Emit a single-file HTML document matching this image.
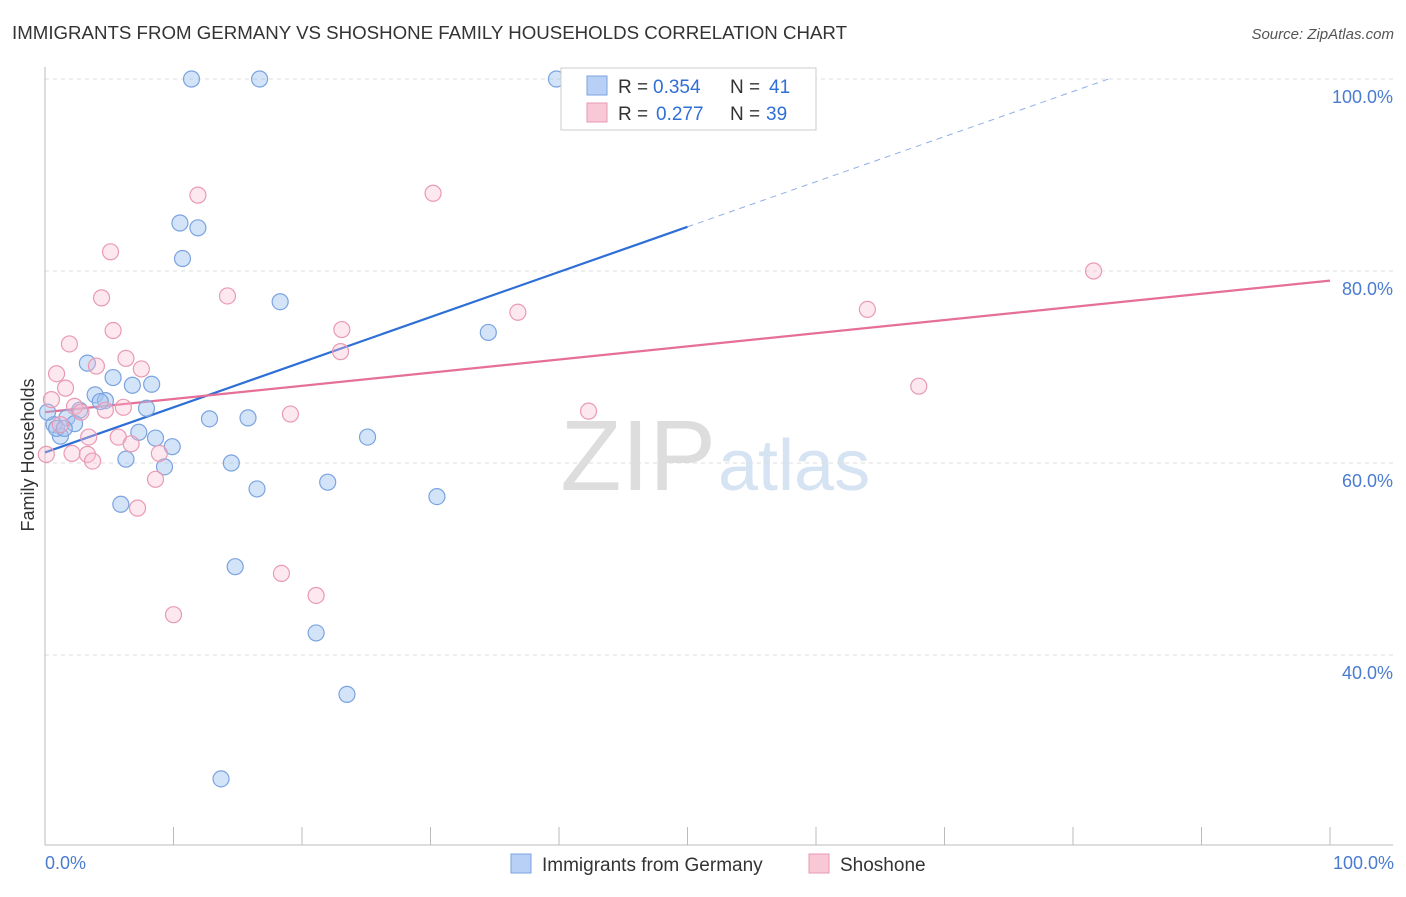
<!DOCTYPE html>
<html><head><meta charset="utf-8"><style>
body{margin:0;background:#fff;font-family:"Liberation Sans",sans-serif;}
svg text{font-family:"Liberation Sans",sans-serif;}
</style></head><body>
<svg id="chart" width="1406" height="892">
<text x="12" y="39" font-size="18" fill="#333" textLength="835" lengthAdjust="spacingAndGlyphs">IMMIGRANTS FROM GERMANY VS SHOSHONE FAMILY HOUSEHOLDS CORRELATION CHART</text>
<text x="1394" y="39" font-size="15" fill="#555" font-style="italic" text-anchor="end">Source: ZipAtlas.com</text>
<text x="716" y="490" font-size="100" fill="#ddd" font-family="Liberation Serif" text-anchor="end">ZIP</text>
<text x="718" y="490" font-size="72" fill="#d6e3f3">atlas</text>
<g id="grid"></g><g id="axes"></g><g id="lines"></g><g id="pts"></g>
<text transform="translate(34,455) rotate(-90)" font-size="18" fill="#333" text-anchor="middle">Family Households</text>
<text x="45" y="869" font-size="18" fill="#4a7bd0">0.0%</text>
<text x="1394" y="869" font-size="18" fill="#4a7bd0" text-anchor="end">100.0%</text>
<g>
<rect x="561" y="68" width="255" height="62" fill="#fff" stroke="#ccc"/>
<rect x="587" y="76" width="20" height="19" fill="#b8d0f5" stroke="#7aa3e0"/>
<rect x="587" y="103" width="20" height="19" fill="#f8c8d6" stroke="#e99ab2"/>
<text x="618" y="93" font-size="19" fill="#333">R = <tspan x="653" fill="#2f6fd6">0.354</tspan><tspan x="730">N = </tspan><tspan x="769" fill="#2f6fd6">41</tspan></text>
<text x="618" y="120" font-size="19" fill="#333">R = <tspan x="656" fill="#2f6fd6">0.277</tspan><tspan x="730">N = </tspan><tspan x="766" fill="#2f6fd6">39</tspan></text>
</g>
<g>
<rect x="511" y="854" width="20" height="19" fill="#b8d0f5" stroke="#7aa3e0"/>
<text x="542" y="871" font-size="19" fill="#333">Immigrants from Germany</text>
<rect x="809" y="854" width="20" height="19" fill="#f8c8d6" stroke="#e99ab2"/>
<text x="840" y="871" font-size="19" fill="#333">Shoshone</text>
</g>
</svg>
<script>
const yTicks=[40,60,80,100];
const yTickLabels=["40.0%","60.0%","80.0%","100.0%"];
const xTicks=[0,10,20,30,40,50,60,70,80,90,100];
const germanyX=[11.4,16.7,39.8,10.5,11.9,10.7,18.3,34.5,3.3,5.3,6.8,8.3,3.9,4.7,4.3,7.9,2.7,1.7,0.7,2.3,1.2,7.3,8.6,9.9,12.8,15.8,25.1,6.3,9.3,14.5,16.5,22.0,30.5,5.9,14.8,21.1,23.5,13.7,0.2,0.9,1.5];
const germanyY=[100,100,100,85.0,84.5,81.3,76.8,73.6,70.4,68.9,68.1,68.2,67.1,66.5,66.4,65.7,65.5,64.7,64.0,64.1,62.8,63.2,62.6,61.7,64.6,64.7,62.7,60.4,59.6,60.0,57.3,58.0,56.5,55.7,49.2,42.3,35.9,27.1,65.3,63.6,63.6];
const shoshoneX=[11.9,30.2,5.1,81.6,4.4,14.2,36.8,64.0,5.3,23.1,1.9,23.0,6.3,7.5,4.0,0.9,1.6,68.0,0.5,2.3,6.1,4.7,2.8,19.1,42.3,3.4,5.7,6.7,2.1,3.3,8.9,3.7,0.1,8.6,7.2,18.4,21.1,10.0,1.2];
const shoshoneY=[87.9,88.1,82.0,80.0,77.2,77.4,75.7,76.0,73.8,73.9,72.4,71.6,70.9,69.8,70.1,69.3,67.8,68.0,66.6,65.9,65.8,65.5,65.3,65.1,65.4,62.7,62.7,62.0,61.0,60.9,61.0,60.2,60.9,58.3,55.3,48.5,46.2,44.2,64.0];
const germanyTrend=[61.1,84.6];
const shoshoneTrend=[65.3,79.0];
const X=v=>45+v*12.85, Y=v=>79+(100-v)*9.6;
const NS="http://www.w3.org/2000/svg";
function mk(tag,attrs,parent){const e=document.createElementNS(NS,tag);for(const k in attrs)e.setAttribute(k,attrs[k]);document.getElementById(parent).appendChild(e);return e;}
yTicks.forEach((t,i)=>{
 const l=mk('line',{x1:45,x2:1393,y1:Y(t),y2:Y(t),stroke:'#ddd','stroke-dasharray':'4,4'},'grid');
 
 
 const tx=mk('text',{x:1393,y:Y(t)+24,'font-size':18,fill:'#4a7bd0','text-anchor':'end'},'grid');
 tx.textContent=yTickLabels[i];
 
 
});
const ax=mk('line',{x1:45,x2:45,y1:67,y2:845,stroke:'#bbb'},'axes');


const bx=mk('line',{x1:45,x2:1393,y1:845,y2:845,stroke:'#bbb'},'axes');


xTicks.forEach(t=>{
 const l=mk('line',{x1:X(t),x2:X(t),y1:827,y2:845,stroke:'#bbb'},'axes');
 
 
});
function pts(xs,ys,fill,stroke,name){xs.forEach((x,i)=>{
 const c=mk('circle',{cx:X(x),cy:Y(ys[i]),r:8,fill:fill,stroke:stroke,'stroke-width':1.2},'pts');
 
 
});}
pts(germanyX,germanyY,'rgba(160,195,240,0.45)','#7aa3e0','germany-point');
pts(shoshoneX,shoshoneY,'rgba(248,190,210,0.35)','#e99ab2','shoshone-point');
const gs=(germanyTrend[1]-germanyTrend[0])/50;
const xEnd=Math.min(100,(100-germanyTrend[0])/gs);
const g1=mk('line',{x1:X(0),y1:Y(germanyTrend[0]),x2:X(50),y2:Y(germanyTrend[1]),stroke:'#2d6fd6','stroke-width':2.2},'lines');


const g2=mk('line',{x1:X(50),y1:Y(germanyTrend[1]),x2:X(xEnd),y2:Y(germanyTrend[0]+gs*xEnd),stroke:'#8fb0e6','stroke-width':1,'stroke-dasharray':'6,5'},'lines');


const s1=mk('line',{x1:X(0),y1:Y(shoshoneTrend[0]),x2:X(100),y2:Y(shoshoneTrend[1]),stroke:'#e66f98','stroke-width':2.2},'lines');


</script>
</body></html>
